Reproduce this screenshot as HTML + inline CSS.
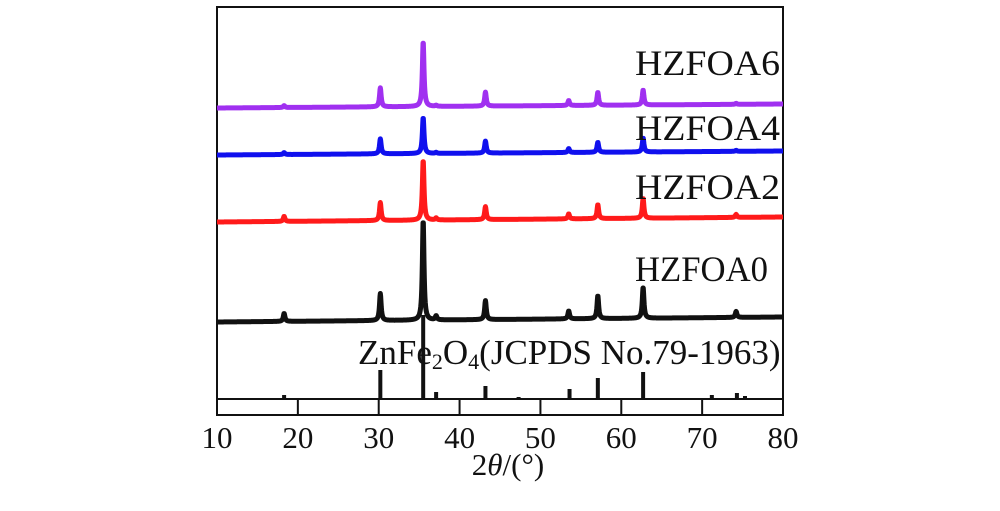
<!DOCTYPE html>
<html><head><meta charset="utf-8"><style>
html,body{margin:0;padding:0;background:#fff;width:1000px;height:511px;overflow:hidden}
text{font-family:"Liberation Serif",serif;fill:#111}
</style></head><body>
<svg id="chart" width="1000" height="511" viewBox="0 0 1000 511" xmlns="http://www.w3.org/2000/svg">
<rect x="217" y="7" width="566" height="408" fill="none" stroke="#111" stroke-width="2"/>
<line x1="217" y1="399" x2="783" y2="399" stroke="#111" stroke-width="2"/>
<g id="ticks"></g>
<g id="series"></g>
<g id="sticks"></g>
<text x="635" y="75" font-size="36" textLength="145" lengthAdjust="spacingAndGlyphs">HZFOA6</text>
<text x="635" y="140" font-size="36" textLength="145" lengthAdjust="spacingAndGlyphs">HZFOA4</text>
<text x="635" y="199" font-size="36" textLength="145" lengthAdjust="spacingAndGlyphs">HZFOA2</text>
<text x="635" y="281" font-size="36" textLength="133" lengthAdjust="spacingAndGlyphs">HZFOA0</text>
<text x="358" y="364" font-size="35">ZnFe<tspan font-size="22" dy="5">2</tspan><tspan dy="-5">O</tspan><tspan font-size="22" dy="5">4</tspan><tspan dy="-5">(JCPDS No.79-1963)</tspan></text>
<text x="508" y="475" font-size="31" text-anchor="middle">2<tspan font-style="italic">θ</tspan>/(°)</text>
</svg>
<script>
const xTicks=[10,20,30,40,50,60,70,80];
const peakPos=[18.3,30.2,35.5,37.1,43.2,53.5,57.1,62.7,74.2];
const seriesNames=["HZFOA0","HZFOA2","HZFOA4","HZFOA6"];
const seriesColors=["#111111","#ff1a1a","#1010ee","#a030f0"];
const baseStart=[77,177,244,291];
const baseEnd=[82,182,248,295];
const peaks0=[8,27,100,4,19,8,23,31,6];
const peaks2=[5,18,60,2,13,5,14,20,3];
const peaks4=[2,15,36,1,12,4,10,14,1];
const peaks6=[2,19,65,1,14,5,13,15,1];
const stickPos=[18.3,30.2,35.5,37.1,43.2,47.3,53.6,57.1,62.7,65.8,71.2,74.3,75.3];
const stickH=[4,29,84,7,13,2,10,21,27,1,4,6,3];
const svg=document.getElementById('chart');
const NS="http://www.w3.org/2000/svg";
const X=v=>217+(v-10)*(566/70);
const Y=v=>399-v;
const tg=document.getElementById('ticks');
xTicks.forEach(t=>{
  if(t>10&&t<80){const l=document.createElementNS(NS,'line');
  
  
  l.setAttribute('x1',X(t));l.setAttribute('x2',X(t));l.setAttribute('y1',399);l.setAttribute('y2',415);
  l.setAttribute('stroke','#111');l.setAttribute('stroke-width','2');tg.appendChild(l);}
  const tx=document.createElementNS(NS,'text');
  
  
  tx.setAttribute('x',X(t));tx.setAttribute('y',448);tx.setAttribute('font-size','31');tx.setAttribute('text-anchor','middle');
  tx.textContent=t;tg.appendChild(tx);
});
const allPeaks=[peaks0,peaks2,peaks4,peaks6];
const sg=document.getElementById('series');
allPeaks.forEach((pk,i)=>{
  let d='';
  for(let x=10;x<=80.001;x+=0.04){
    let v=baseStart[i]+(baseEnd[i]-baseStart[i])*(x-10)/70;
    peakPos.forEach((p,j)=>{const w=0.12;v+=pk[j]/(1+((x-p)/w)**2);});
    d+=(d?'L':'M')+X(x).toFixed(2)+' '+Y(v).toFixed(2);
  }
  const p=document.createElementNS(NS,'path');
  
  
  p.setAttribute('d',d);p.setAttribute('fill','none');p.setAttribute('stroke',seriesColors[i]);
  p.setAttribute('stroke-width','5');p.setAttribute('stroke-linejoin','round');
  sg.appendChild(p);
});
const kg=document.getElementById('sticks');
stickPos.forEach((s,i)=>{
  const r=document.createElementNS(NS,'rect');
  
  
  r.setAttribute('x',X(s)-2);r.setAttribute('y',Y(stickH[i]));r.setAttribute('width',4);r.setAttribute('height',stickH[i]);
  r.setAttribute('fill','#111');kg.appendChild(r);
});
</script>
</body></html>
